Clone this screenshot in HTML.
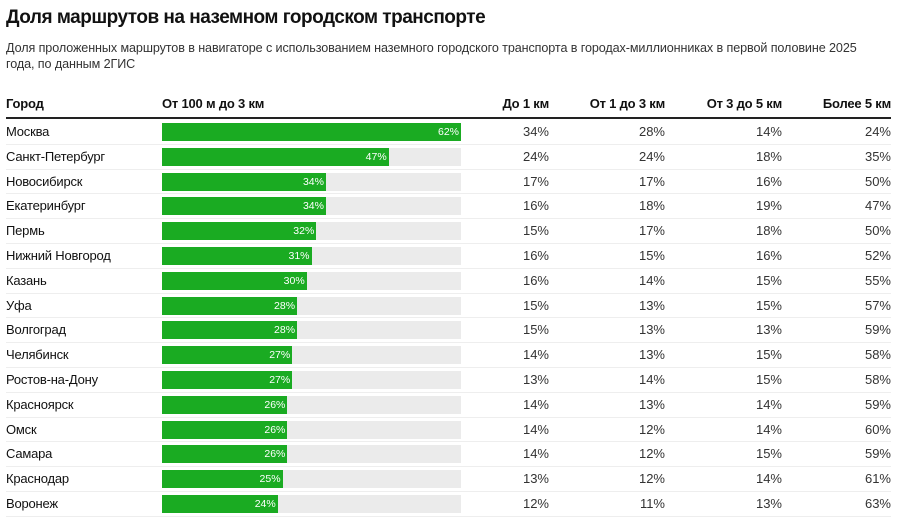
<!DOCTYPE html>
<html><head><meta charset="utf-8"><style>
body{margin:0;width:901px;height:520px;background:#fff;font-family:"Liberation Sans","DejaVu Sans",sans-serif;color:#111;position:relative;overflow:hidden}
.t{position:absolute;left:6px;top:7px;font-size:19px;font-weight:bold;letter-spacing:-0.5px}
.s{position:absolute;left:6px;top:41px;font-size:12.6px;line-height:15.5px;color:#333;width:870px;letter-spacing:-0.1px}
.h{position:absolute;top:96px;font-size:13px;font-weight:bold;letter-spacing:-0.2px}
.hl{position:absolute;left:6px;top:117px;width:885px;height:2px;background:#222}
.r{position:absolute;left:6px;width:885px;height:24.8px;border-bottom:1px solid #eee;box-sizing:border-box;font-size:13px}
.c{position:absolute;left:0;top:4px;letter-spacing:-0.2px}
.tr{position:absolute;left:156px;top:3px;width:299px;height:18px;background:#ebebeb}
.b{position:absolute;left:0;top:0;height:18px;background:#1aab22;color:#fff;font-size:10.5px;text-align:right;line-height:18px;box-sizing:border-box;padding-right:2px}
.v{position:absolute;top:4px;text-align:right;width:60px;color:#333}
</style></head><body>
<div class="t">Доля маршрутов на наземном городском транспорте</div>
<div class="s">Доля проложенных маршрутов в навигаторе с использованием наземного городского транспорта в городах-миллионниках в первой половине 2025<br>года, по данным 2ГИС</div>
<div class="h" style="left:6px">Город</div>
<div class="h" style="left:162px">От 100 м до 3 км</div>
<div class="h" style="right:352px">До 1 км</div>
<div class="h" style="right:236px">От 1 до 3 км</div>
<div class="h" style="right:119px">От 3 до 5 км</div>
<div class="h" style="right:10px">Более 5 км</div>
<div class="hl"></div>
<div id="rows"></div>
<script>
var d=[["Москва",62,34,28,14,24],["Санкт-Петербург",47,24,24,18,35],["Новосибирск",34,17,17,16,50],["Екатеринбург",34,16,18,19,47],["Пермь",32,15,17,18,50],["Нижний Новгород",31,16,15,16,52],["Казань",30,16,14,15,55],["Уфа",28,15,13,15,57],["Волгоград",28,15,13,13,59],["Челябинск",27,14,13,15,58],["Ростов-на-Дону",27,13,14,15,58],["Красноярск",26,14,13,14,59],["Омск",26,14,12,14,60],["Самара",26,14,12,15,59],["Краснодар",25,13,12,14,61],["Воронеж",24,12,11,13,63]];
var h="";d.forEach(function(r,i){var top=120+i*24.8;
h+='<div class="r" style="top:'+top+'px"><div class="c">'+r[0]+'</div><div class="tr"><div class="b" style="width:'+(r[1]*299/62)+'px">'+r[1]+'%</div></div>'+
'<div class="v" style="left:483px">'+r[2]+'%</div><div class="v" style="left:599px">'+r[3]+'%</div><div class="v" style="left:716px">'+r[4]+'%</div><div class="v" style="left:825px">'+r[5]+'%</div></div>';});
document.getElementById("rows").innerHTML=h;
</script>
</body></html>
